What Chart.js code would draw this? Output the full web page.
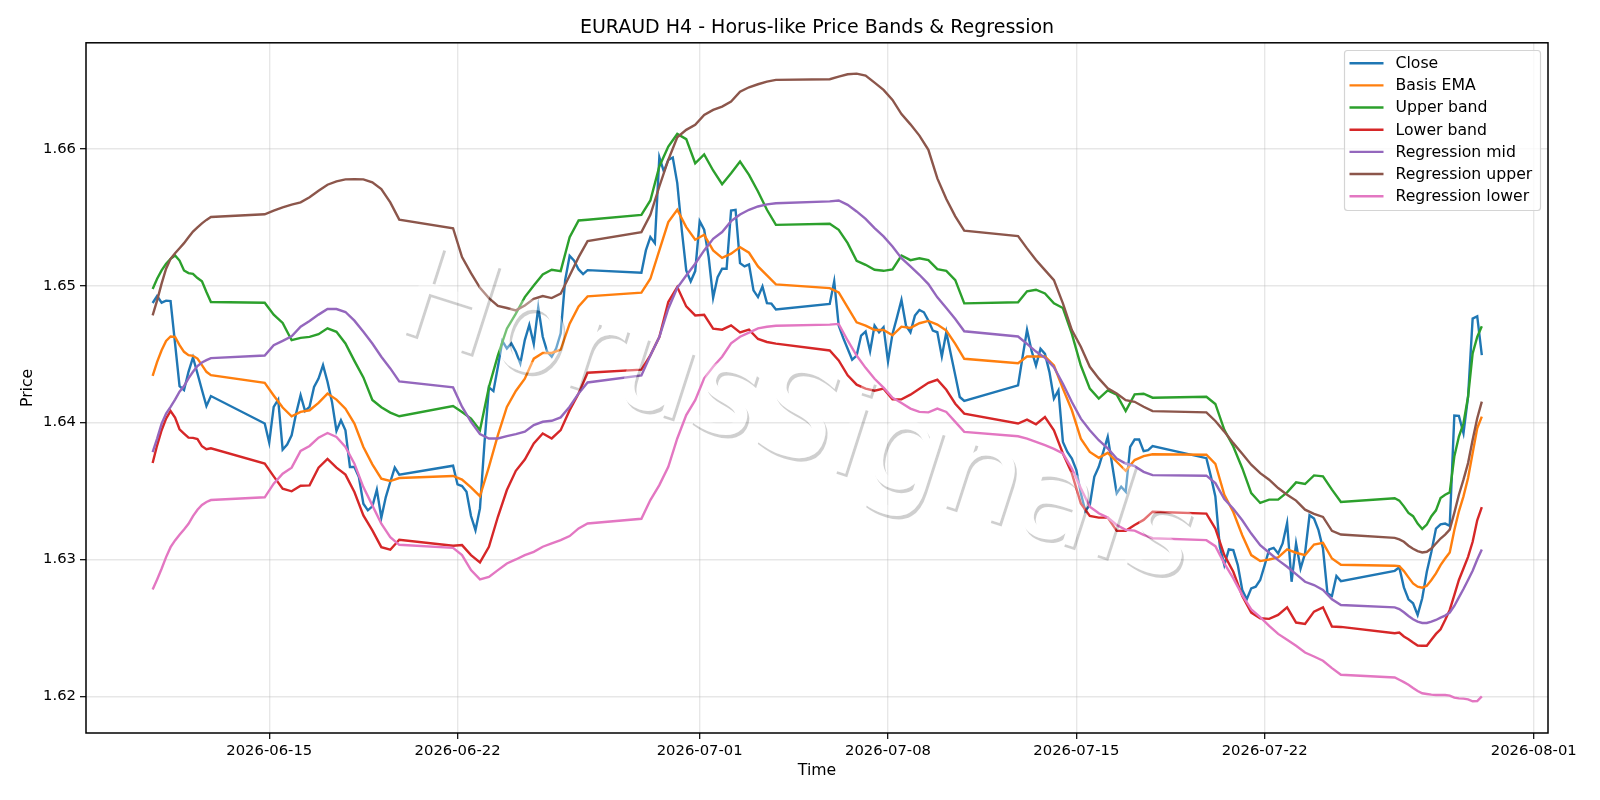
<!DOCTYPE html>
<html>
<head>
<meta charset="utf-8">
<title>EURAUD H4</title>
<script src="https://cdn.jsdelivr.net/npm/chart.js@4/dist/chart.umd.min.js"></script>
<style>
  html, body { margin: 0; padding: 0; background: #fff; }
  canvas { display: block; }
</style>
</head>
<body>
<canvas id="chart" width="1600" height="800"></canvas>
<script>
// Trading sessions, in days counted from 31 May (1 = 1 June, 31 = 1 July)
const sessionStart = [10.667, 14.833, 21.833, 28.833, 35.833, 42.833, 49.833, 56.833];
const sessionEnd = [12.833, 19.833, 26.833, 33.833, 40.833, 47.833, 54.833, 60.07];

const tickDays = [15, 22, 31, 38, 45, 52, 62];
const tickDates = ['2026-06-15', '2026-06-22', '2026-07-01', '2026-07-08', '2026-07-15', '2026-07-22', '2026-08-01'];
const priceTicks = [1.62, 1.63, 1.64, 1.65, 1.66];

// Series values, one inner list per session
const closeValues = [
  [1.64874,1.64925,1.64876,1.64891,1.64888,1.64578,1.64267,1.64238,1.64371,1.64476,1.64359,1.64238,1.64121,1.64194],
  [1.63993,1.63854,1.64115,1.64168,1.63802,1.63839,1.63907,1.64066,1.642,1.64085,1.64115,1.64261,1.64322,1.6442,1.64298,1.64151,1.63939,1.64017,1.63944,1.63676,1.63676,1.63602,1.63407,1.63359,1.63388,1.6351,1.63305,1.63456,1.63566,1.63671,1.6362],
  [1.63685,1.63548,1.63536,1.63495,1.63317,1.63214,1.63373,1.63848,1.64257,1.6423,1.64408,1.64596,1.64542,1.64579,1.64518,1.64432,1.64603,1.64713,1.64574,1.64842,1.64627,1.64518,1.64481,1.64542,1.64652,1.65041,1.65219,1.65183,1.65119,1.65085,1.65114],
  [1.65095,1.65258,1.65355,1.65311,1.65939,1.65835,1.6592,1.65937,1.6575,1.65409,1.65112,1.65032,1.65107,1.65472,1.65409,1.65209,1.64912,1.65063,1.65124,1.65124,1.6555,1.65555,1.65165,1.65141,1.65156,1.64966,1.64917,1.64995,1.64873,1.64869,1.64827],
  [1.64867,1.65032,1.64709,1.64619,1.64539,1.64459,1.6449,1.64636,1.64665,1.64522,1.64709,1.6466,1.64697,1.64447,1.64648,1.64769,1.64896,1.64709,1.6466,1.64782,1.64823,1.64806,1.64745,1.64672,1.6466,1.64483,1.6466,1.64502,1.64345,1.64187,1.64158],
  [1.64272,1.64478,1.64677,1.64527,1.64417,1.64539,1.64502,1.64369,1.64175,1.64235,1.63859,1.63786,1.63738,1.63653,1.63483,1.63354,1.63398,1.63604,1.63677,1.63786,1.63896,1.6369,1.63483,1.63532,1.63495,1.63823,1.63876,1.63876,1.63791,1.63799,1.63828],
  [1.6374,1.63607,1.6346,1.63092,1.62959,1.63073,1.63068,1.62959,1.62777,1.62709,1.62789,1.62801,1.6285,1.62959,1.63073,1.63085,1.63044,1.63117,1.63267,1.62837,1.63117,1.62934,1.63044,1.63323,1.63299,1.63214,1.6308,1.62752,1.62733,1.62879,1.62842],
  [1.62917,1.62942,1.62796,1.62709,1.6268,1.62595,1.62716,1.6291,1.63056,1.63226,1.63257,1.63262,1.63245,1.64051,1.64049,1.63922,1.64189,1.6476,1.64777,1.64493]
];
const basisValues = [
  [1.64342,1.64444,1.64529,1.64597,1.64629,1.64626,1.64566,1.64517,1.64493,1.64488,1.64468,1.6442,1.64371,1.64347],
  [1.6429,1.64198,1.6411,1.64046,1.64078,1.6409,1.64144,1.64212,1.64168,1.64102,1.63993,1.63822,1.63695,1.6359,1.63573,1.63595],
  [1.6361,1.63584,1.63526,1.63462,1.63676,1.63908,1.64114,1.64231,1.64321,1.64467,1.64509,1.64509,1.64533,1.64723,1.64849,1.64922],
  [1.64949,1.65051,1.65258,1.65465,1.65555,1.65428,1.65336,1.65372,1.65258,1.65204,1.65234,1.65282,1.65241,1.65141,1.65075,1.6501],
  [1.64983,1.64951,1.64842,1.64733,1.64709,1.64677,1.64677,1.64638,1.64701,1.64692,1.64726,1.64743,1.64716,1.64672,1.64575,1.64466],
  [1.64434,1.64483,1.64483,1.64483,1.64417,1.64248,1.6409,1.63883,1.63786,1.63743,1.63779,1.63714,1.63648,1.63726,1.63755,1.63769],
  [1.63765,1.63699,1.63473,1.63347,1.63177,1.63032,1.62988,1.63,1.63015,1.63073,1.63049,1.63032,1.63109,1.63121,1.63007,1.62961],
  [1.62954,1.62951,1.62915,1.62869,1.62825,1.62801,1.62794,1.62808,1.6285,1.62898,1.62959,1.63007,1.63051,1.63214,1.63352,1.63461,1.63595,1.63777,1.63959,1.64044]
];
const upperValues = [
  [1.64976,1.65051,1.65112,1.6516,1.65197,1.65221,1.65184,1.65112,1.65092,1.65087,1.65056,1.65032,1.64954,1.64881],
  [1.64876,1.64789,1.64728,1.64602,1.64619,1.64626,1.64646,1.64689,1.64663,1.64578,1.64451,1.6433,1.64165,1.64112,1.64073,1.64046],
  [1.64121,1.64078,1.64029,1.63944,1.6426,1.64491,1.64686,1.64796,1.64917,1.65002,1.65083,1.65117,1.65107,1.65355,1.65477,1.65482],
  [1.65518,1.65623,1.65871,1.66017,1.66109,1.66071,1.65895,1.65959,1.65842,1.65742,1.65822,1.65908,1.6581,1.65689,1.65555,1.65445],
  [1.65453,1.65409,1.65311,1.65182,1.65153,1.65117,1.65109,1.65119,1.65221,1.65187,1.65201,1.65187,1.65121,1.65109,1.65041,1.64871],
  [1.64879,1.64959,1.64971,1.64944,1.64871,1.64837,1.64648,1.64417,1.64248,1.64175,1.64235,1.64204,1.64085,1.64206,1.64211,1.64182],
  [1.64189,1.64136,1.63947,1.63825,1.63667,1.63485,1.63413,1.63437,1.63437,1.6349,1.63563,1.63551,1.63614,1.63607,1.6351,1.6342],
  [1.63447,1.6343,1.63388,1.6334,1.63316,1.63262,1.63223,1.63255,1.63316,1.63359,1.63449,1.63473,1.6349,1.63752,1.63898,1.63995,1.64189,1.64505,1.64626,1.64704]
];
const lowerValues = [
  [1.63705,1.63834,1.63944,1.64029,1.64085,1.64037,1.63951,1.6392,1.6389,1.63888,1.6388,1.63827,1.63805,1.63812],
  [1.637,1.63607,1.63517,1.63498,1.63539,1.63541,1.63671,1.63734,1.63671,1.6362,1.63493,1.63322,1.63212,1.6309,1.63071,1.63144],
  [1.631,1.63105,1.63032,1.62978,1.63093,1.63312,1.63507,1.63648,1.6373,1.63848,1.6392,1.63884,1.63945,1.64091,1.64213,1.64364],
  [1.64387,1.64491,1.64625,1.64881,1.6499,1.64849,1.64783,1.64788,1.64686,1.64679,1.6471,1.64659,1.64679,1.64611,1.64589,1.64577],
  [1.64527,1.64454,1.64345,1.64277,1.64248,1.64233,1.64248,1.6417,1.6417,1.64204,1.64248,1.64291,1.64313,1.6424,1.64138,1.64066],
  [1.63993,1.64022,1.63988,1.64041,1.63944,1.63774,1.63629,1.6341,1.63318,1.63306,1.63306,1.63209,1.63209,1.63252,1.63289,1.63349],
  [1.63335,1.63226,1.63032,1.6291,1.62733,1.62612,1.6257,1.62566,1.62595,1.6265,1.62539,1.62529,1.62619,1.6265,1.6251,1.62507],
  [1.62461,1.62466,1.62437,1.62417,1.62393,1.62371,1.62369,1.62369,1.62413,1.62456,1.6249,1.62558,1.62631,1.6274,1.6285,1.62934,1.63019,1.63129,1.63286,1.63383]
];
const regMidValues = [
  [1.63785,1.63883,1.63993,1.64066,1.64115,1.64168,1.64226,1.64267,1.64323,1.64371,1.64413,1.64439,1.64456,1.64471],
  [1.6449,1.64566,1.64597,1.64631,1.64701,1.64743,1.64789,1.6483,1.6483,1.64808,1.64745,1.64663,1.64578,1.64481,1.64396,1.64301],
  [1.64257,1.64116,1.64006,1.63916,1.63884,1.63884,1.63901,1.63916,1.63933,1.63982,1.64006,1.64013,1.64038,1.64116,1.64213,1.64293],
  [1.64345,1.64491,1.64625,1.64832,1.64985,1.65075,1.65161,1.65258,1.65343,1.65392,1.65472,1.65521,1.65555,1.65579,1.65594,1.65603],
  [1.65616,1.65623,1.65591,1.65543,1.65489,1.65421,1.6536,1.65287,1.65201,1.65141,1.6508,1.65012,1.64915,1.64837,1.64757,1.64667],
  [1.64629,1.64575,1.64519,1.64473,1.64405,1.64284,1.6415,1.64029,1.63944,1.63871,1.63811,1.63738,1.63701,1.63682,1.6364,1.63616],
  [1.63612,1.63558,1.63442,1.63371,1.63286,1.63189,1.63104,1.63049,1.62995,1.62947,1.62893,1.62837,1.62813,1.62777,1.62709,1.62667],
  [1.6265,1.62638,1.62614,1.62587,1.62563,1.62546,1.62536,1.62536,1.62546,1.62558,1.62575,1.6259,1.62612,1.6266,1.62723,1.62784,1.6285,1.62917,1.63,1.63073]
];
const regUpperValues = [
  [1.64784,1.64893,1.65015,1.65124,1.65197,1.65238,1.65274,1.65311,1.65354,1.65396,1.65427,1.65456,1.65481,1.65502],
  [1.65522,1.65549,1.65573,1.65592,1.65609,1.65646,1.65694,1.65738,1.65762,1.65777,1.65779,1.65777,1.65755,1.65706,1.65609,1.65483],
  [1.6542,1.65209,1.65092,1.64985,1.6491,1.64852,1.64837,1.6482,1.64856,1.64905,1.64925,1.6491,1.64942,1.65075,1.65209,1.65326],
  [1.65392,1.65518,1.65725,1.6592,1.66085,1.66139,1.66175,1.66248,1.66285,1.66309,1.66345,1.66418,1.6645,1.66472,1.66491,1.66504],
  [1.66509,1.66528,1.66545,1.6655,1.66535,1.66484,1.66431,1.66358,1.66254,1.66179,1.66097,1.65993,1.65784,1.65634,1.65507,1.65403],
  [1.65363,1.65273,1.65188,1.65114,1.65041,1.64871,1.64676,1.64554,1.64408,1.64323,1.6425,1.64213,1.64164,1.64152,1.64116,1.64084],
  [1.64075,1.64012,1.63934,1.6385,1.63772,1.63692,1.63631,1.63583,1.63522,1.63473,1.6343,1.63364,1.63333,1.63311,1.63209,1.63182],
  [1.63158,1.63146,1.63129,1.631,1.63078,1.63061,1.63051,1.63056,1.6308,1.63117,1.63153,1.63182,1.63218,1.6334,1.63473,1.63583,1.63704,1.63874,1.64032,1.64153]
];
const regLowerValues = [
  [1.6278,1.62854,1.62932,1.63017,1.6309,1.63139,1.6318,1.63219,1.6326,1.63317,1.63363,1.63398,1.6342,1.63434],
  [1.63454,1.63554,1.63627,1.63671,1.63793,1.63829,1.6389,1.63924,1.63895,1.63822,1.637,1.63529,1.63395,1.63261,1.63163,1.63107],
  [1.63085,1.63032,1.62922,1.62854,1.62873,1.62922,1.62971,1.63,1.63032,1.63056,1.63093,1.63117,1.63141,1.63171,1.63227,1.63263],
  [1.63297,1.63434,1.63543,1.63677,1.63884,1.64055,1.64164,1.64323,1.64408,1.64481,1.64579,1.64627,1.64657,1.64688,1.647,1.64708],
  [1.64716,1.64721,1.646,1.6449,1.644,1.6432,1.64255,1.64182,1.64143,1.64102,1.64078,1.64075,1.64102,1.64078,1.64005,1.63932],
  [1.639,1.63883,1.63859,1.63835,1.63808,1.63774,1.63665,1.6352,1.63386,1.63337,1.63306,1.63252,1.63216,1.63211,1.6318,1.63155],
  [1.63141,1.63097,1.62971,1.62862,1.6274,1.62636,1.62578,1.62515,1.62456,1.62413,1.62369,1.6232,1.62291,1.6226,1.62206,1.62158],
  [1.62138,1.62121,1.62104,1.62085,1.62061,1.62039,1.62022,1.62017,1.62012,1.6201,1.6201,1.6201,1.62005,1.6199,1.61985,1.61983,1.61978,1.61964,1.61966,1.62]
];

const seriesNames = ['Close', 'Basis EMA', 'Upper band', 'Lower band', 'Regression mid', 'Regression upper', 'Regression lower'];
const seriesColors = ['#1f77b4', '#ff7f0e', '#2ca02c', '#d62728', '#9467bd', '#8c564b', '#e377c2'];
const seriesValues = [closeValues, basisValues, upperValues, lowerValues, regMidValues, regUpperValues, regLowerValues];

const fontFamily = '"DejaVu Sans", sans-serif';

// Spread each session's values evenly between its open and close
function toPoints(sessions) {
  const points = [];
  sessions.forEach((values, s) => {
    const step = (sessionEnd[s] - sessionStart[s]) / (values.length - 1);
    values.forEach((v, i) => points.push({ x: sessionStart[s] + step * i, y: v }));
  });
  return points;
}

// White lettering across the plot, with a grey edge only outside the glyphs
const watermark = {
  id: 'watermark',
  afterDatasetsDraw(chart) {
    const ctx = chart.ctx;
    const text = 'HorusSignals';
    const font = '127px ' + fontFamily;
    const angle = 17.8 * Math.PI / 180;
    const place = (c, dx, dy) => {
      c.save();
      c.font = font;
      c.textBaseline = 'alphabetic';
      c.translate(392 + dx, 328 + dy);
      c.rotate(angle);
      c.fillText(text, 0, 0);
      c.restore();
    };
    const layer = document.createElement('canvas');
    layer.width = chart.width;
    layer.height = chart.height;
    const c = layer.getContext('2d');
    c.fillStyle = 'rgba(0, 0, 0, 0.19)';
    place(c, 2, 3.5);
    c.globalCompositeOperation = 'destination-out';
    c.fillStyle = '#000';
    place(c, 0, 0);
    ctx.drawImage(layer, 0, 0);
    ctx.fillStyle = 'rgba(255, 255, 255, 0.35)';
    place(ctx, 0, 0);
  }
};

// Axes frame and the legend box in the top right corner
const frameAndLegend = {
  id: 'frameAndLegend',
  afterDraw(chart) {
    const ctx = chart.ctx;
    const area = chart.chartArea;
    ctx.save();
    ctx.strokeStyle = '#000';
    ctx.lineWidth = 1.5;
    ctx.strokeRect(area.left, area.top, area.right - area.left, area.bottom - area.top);

    ctx.beginPath();
    ctx.roundRect(1344.5, 50.5, 196, 160, 3);
    ctx.fillStyle = 'rgba(255, 255, 255, 0.8)';
    ctx.fill();
    ctx.strokeStyle = '#d4d4d4';
    ctx.lineWidth = 1.2;
    ctx.stroke();

    ctx.font = '15.7px ' + fontFamily;
    ctx.textBaseline = 'middle';
    seriesNames.forEach((name, i) => {
      const y = 63.2 + i * 22.17;
      ctx.strokeStyle = seriesColors[i];
      ctx.lineWidth = 2.4;
      ctx.beginPath();
      ctx.moveTo(1349.5, y);
      ctx.lineTo(1383.5, y);
      ctx.stroke();
      ctx.fillStyle = '#000';
      ctx.fillText(name, 1395.5, y + 0.8);
    });
    ctx.restore();
  }
};

new Chart(document.getElementById('chart'), {
  type: 'line',
  data: {
    datasets: seriesNames.map((name, i) => ({
      label: name,
      data: toPoints(seriesValues[i]),
      borderColor: seriesColors[i],
      borderWidth: 2.4,
      pointRadius: 0,
      tension: 0,
      order: seriesNames.length - i
    }))
  },
  options: {
    responsive: false,
    animation: false,
    devicePixelRatio: 1,
    layout: { padding: { left: 0, right: 52, top: 0, bottom: 0 } },
    plugins: {
      legend: { display: false },
      tooltip: { enabled: false },
      title: {
        display: true,
        fullSize: false,
        text: 'EURAUD H4 - Horus-like Price Bands & Regression',
        color: '#000',
        font: { family: fontFamily, size: 19, weight: 'normal' },
        padding: { top: 17, bottom: 3 }
      }
    },
    scales: {
      x: {
        type: 'linear',
        min: 8.19,
        max: 62.53,
        afterFit(scale) { scale.height = 67; },
        afterBuildTicks(scale) { scale.ticks = tickDays.map(v => ({ value: v })); },
        grid: { color: 'rgba(176, 176, 176, 0.3)', lineWidth: 1.4, tickColor: '#000', tickLength: 6, tickWidth: 1.2 },
        border: { display: false },
        ticks: {
          color: '#000',
          font: { family: fontFamily, size: 14.8 },
          maxRotation: 0,
          autoSkip: false,
          padding: 3,
          callback(value) { return tickDates[tickDays.indexOf(value)]; }
        },
        title: {
          display: true,
          text: 'Time',
          color: '#000',
          font: { family: fontFamily, size: 15.7 },
          padding: { top: 0, bottom: 20 }
        }
      },
      y: {
        min: 1.61732,
        max: 1.66775,
        afterFit(scale) { scale.width = 86; },
        afterBuildTicks(scale) { scale.ticks = priceTicks.map(v => ({ value: v })); },
        grid: { color: 'rgba(176, 176, 176, 0.3)', lineWidth: 1.4, tickColor: '#000', tickLength: 6, tickWidth: 1.2 },
        border: { display: false },
        ticks: {
          color: '#000',
          font: { family: fontFamily, size: 14.8 },
          padding: 4,
          callback(value) { return value.toFixed(2); }
        },
        title: {
          display: true,
          text: 'Price',
          color: '#000',
          font: { family: fontFamily, size: 15.7 },
          padding: { top: 19, bottom: 0 }
        }
      }
    }
  },
  plugins: [watermark, frameAndLegend]
});
</script>
</body>
</html>
